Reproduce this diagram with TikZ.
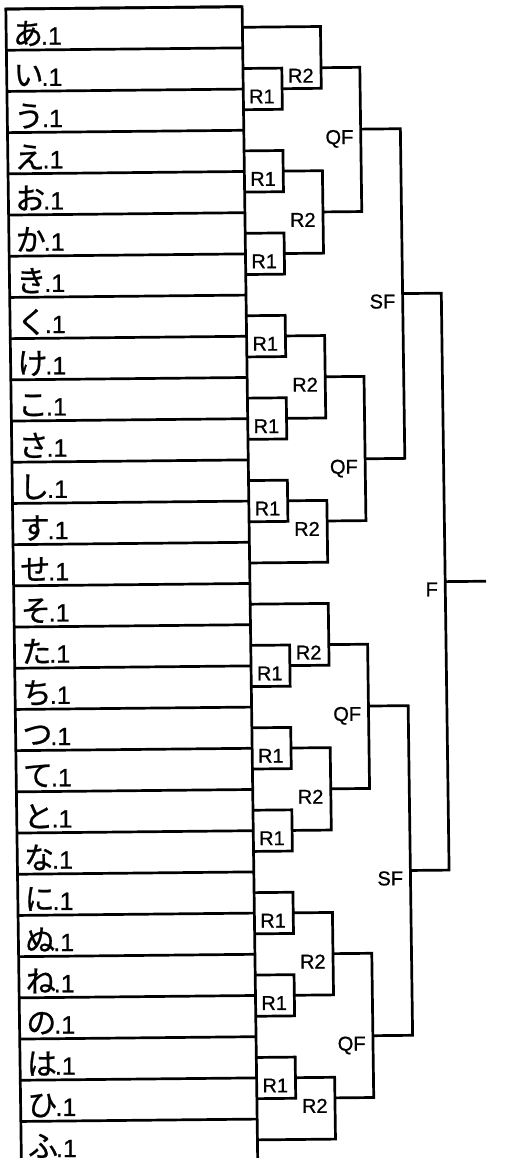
\documentclass[tikz,border=0pt]{standalone}
\usepackage{fontspec}
\setmainfont{Liberation Sans}[FakeBold=0.8]
\newfontfamily\jpfont{Noto Sans CJK JP}[FakeBold=0.8]

\tikzset{
  entry/.style={anchor=base west, inner sep=0pt, font=\fontsize{25}{30}\selectfont},
  stage/.style={anchor=north east, inner sep=0pt, font=\fontsize{20}{24}\selectfont},
}

% one match: name, label, x of the upright, upper and lower entrant, row of the winner
\newcommand{\match}[6]{%
  \coordinate (#1) at (#3,#6);
  \draw (#4) -| (#1 |- #5) -- (#5);
  \node[stage] (#1-t) at ([xshift=-6pt,yshift=0.5pt]#1) {#2};
}

\begin{document}
\begin{tikzpicture}[x=1pt, y=-41.2pt, line width=2.7pt]
\useasboundingbox (0pt,0pt) rectangle (508pt,-1158pt);
\begin{scope}[cm={1,0.01,-0.0135,1,(0pt,0pt)}, yshift=-9.1pt]

% the sheet of entries
\draw (5.7,0) rectangle (242,28);
\foreach \kana [count=\k from 0] in {あ,い,う,え,お,か,き,く,け,こ,さ,し,す,せ,そ,た,ち,つ,て,と,な,に,ぬ,ね,の,は,ひ,ふ}{
  \draw (5.7,\k) -- (242,\k);
  \coordinate (m\k) at (242,\k+0.5);
  \node[entry, yshift=5.5pt] (e\k) at (11,\k+1) {{\jpfont\fontsize{30}{30}\selectfont\kana}\kern-2pt.1};
}

% first round
\foreach \a/\b/\nm in {1/2/r1a,3/4/r1b,5/6/r1c,7/8/r1d,9/10/r1e,11/12/r1f,
                       15/16/r1g,17/18/r1h,19/20/r1i,21/22/r1j,23/24/r1k,25/26/r1l}{
  \match{\nm}{R1}{280.8}{m\a}{m\b}{\b}
}

% second round
\match{r2a}{R2}{320}{m0}{r1a}{1.5}
\match{r2b}{R2}{320}{r1b}{r1c}{5}
\match{r2c}{R2}{320}{r1d}{r1e}{9}
\match{r2d}{R2}{320}{r1f}{m13}{12.5}
\match{r2e}{R2}{320}{m14}{r1g}{15.5}
\match{r2f}{R2}{320}{r1h}{r1i}{19}
\match{r2g}{R2}{320}{r1j}{r1k}{23}
\match{r2h}{R2}{320}{r1l}{m27}{26.5}

% quarter finals
\match{qf1}{QF}{358.8}{r2a}{r2b}{3}
\match{qf2}{QF}{358.8}{r2c}{r2d}{11}
\match{qf3}{QF}{358.8}{r2e}{r2f}{17}
\match{qf4}{QF}{358.8}{r2g}{r2h}{25}

% semi finals and final
\match{sf1}{SF}{398.5}{qf1}{qf2}{7}
\match{sf2}{SF}{398.5}{qf3}{qf4}{21}
\match{f}{F}{437.2}{sf1}{sf2}{14}
\coordinate (win) at (478,14);
\draw (f) -- (win);

\end{scope}
\end{tikzpicture}
\end{document}
